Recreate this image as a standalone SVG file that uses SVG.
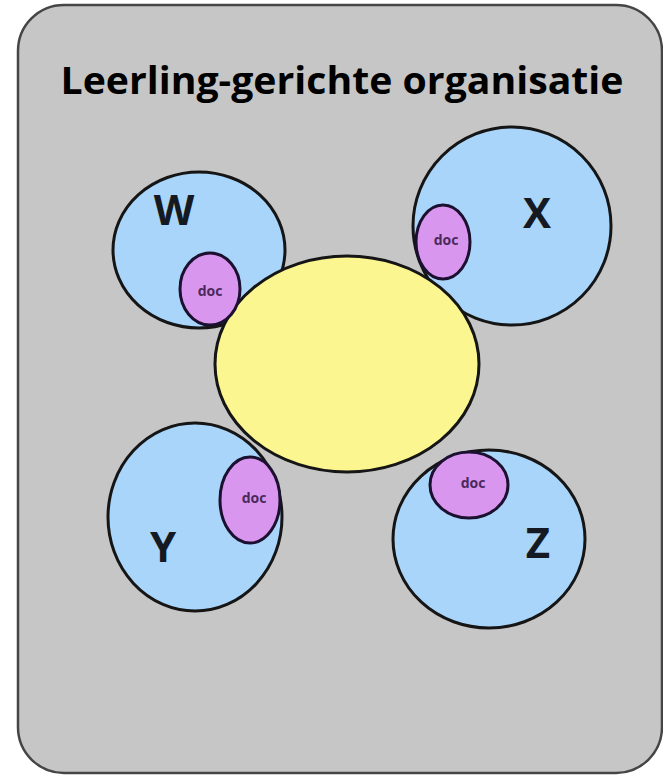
<svg xmlns="http://www.w3.org/2000/svg" width="663" height="778" viewBox="0 0 663 778">
<style>
.stu{fill:#a9d5fa;stroke:#151515;stroke-width:3}
.doc{fill:#d996ef;stroke:#1c1030;stroke-width:3}
.ctr{fill:#fcf690;stroke:#151515;stroke-width:3}
.big{font-family:"Open Sans","Liberation Sans",sans-serif;font-weight:bold;font-size:42px;fill:#151a22;text-anchor:middle}
.dt{font-family:"Open Sans","Liberation Sans",sans-serif;font-weight:bold;font-size:14px;fill:#4a2a5c;text-anchor:middle}
</style>
<rect x="0" y="0" width="663" height="778" fill="#ffffff"/>
<g id="frame">
<rect x="18" y="5" width="644" height="768" rx="46" ry="46" fill="#c6c6c6" stroke="#454545" stroke-width="2.5"/>
<text x="342" y="94" font-family="'Open Sans','Liberation Sans',sans-serif" font-weight="bold" font-size="38" fill="#000" text-anchor="middle" textLength="563" lengthAdjust="spacingAndGlyphs">Leerling-gerichte organisatie</text>
</g>
<g id="W">
<ellipse class="stu" cx="199" cy="250" rx="86" ry="78"/>
<text class="big" x="174" y="225">W</text>
</g>
<g id="X">
<ellipse class="stu" cx="512" cy="226" rx="99" ry="99"/>
<text class="big" x="537" y="228">X</text>
</g>
<g id="Y">
<ellipse class="stu" cx="195" cy="517" rx="87" ry="94"/>
<text class="big" x="163" y="562">Y</text>
</g>
<g id="Z">
<ellipse class="stu" cx="489" cy="539" rx="96" ry="89"/>
<text class="big" x="538" y="558">Z</text>
</g>
<g id="center">
<ellipse class="ctr" cx="347" cy="364" rx="132" ry="108"/>
</g>
<g id="docW">
<ellipse class="doc" cx="210" cy="289" rx="30" ry="36"/>
<text class="dt" x="210" y="296">doc</text>
</g>
<g id="docX">
<ellipse class="doc" cx="443" cy="242" rx="27" ry="37"/>
<text class="dt" x="446" y="245">doc</text>
</g>
<g id="docY">
<ellipse class="doc" cx="250" cy="500" rx="30" ry="43"/>
<text class="dt" x="254" y="503">doc</text>
</g>
<g id="docZ">
<ellipse class="doc" cx="469" cy="485" rx="39" ry="33"/>
<text class="dt" x="473" y="488">doc</text>
</g>
</svg>
